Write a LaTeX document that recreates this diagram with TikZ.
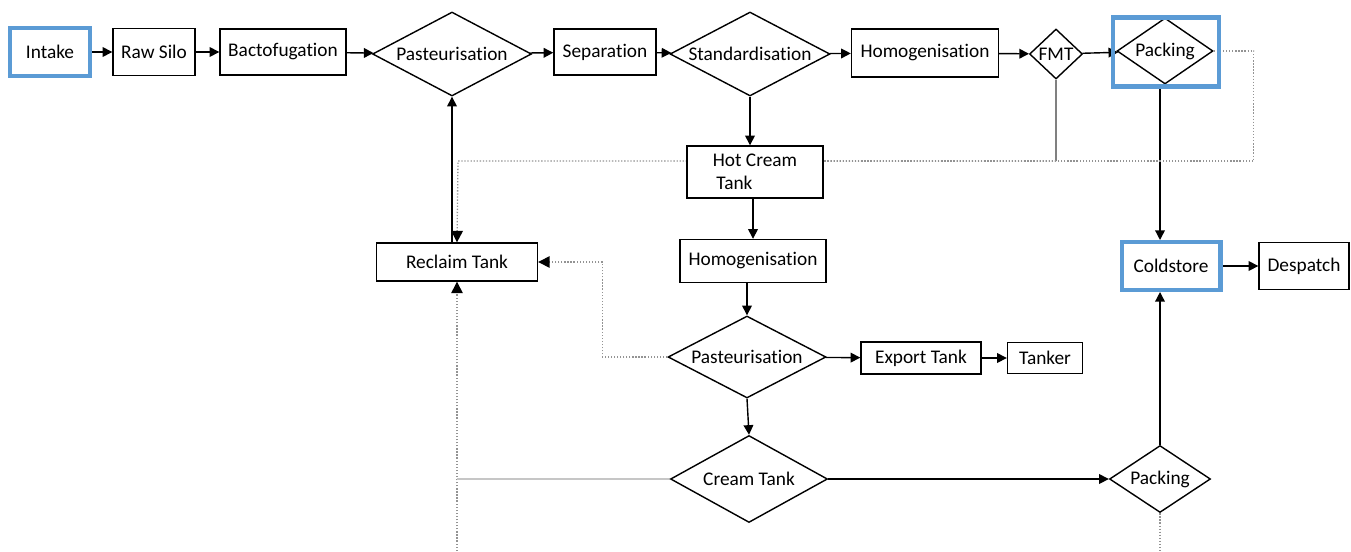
\documentclass[tikz,border=0pt]{standalone}
\usepackage{fontspec}
\setmainfont{Carlito}[Ligatures=NoCommon]
\usetikzlibrary{arrows.meta,shapes.geometric,positioning,calc}
\pgfdeclarelayer{bg}
\pgfsetlayers{bg,main}
\definecolor{hlblue}{RGB}{91,155,213}
\tikzset{
  box/.style={draw, fill=white, line width=0.8pt, inner sep=2pt},
  dia/.style={draw, diamond, fill=white, line width=0.8pt, inner sep=0pt},
  hilite/.style={draw=hlblue, line width=2.3pt},
  tip/.style={-{Triangle[length=5.5pt,width=5.5pt]}},
  backtip/.style={-{Triangle[length=6.5pt,width=6.5pt,color=black,fill=black]}},
  flow/.style={line width=0.8pt, tip},
  back/.style={gray!85, densely dotted, line width=0.75pt},
}

\begin{document}
\begin{tikzpicture}[x=0.02cm, y=-0.02cm, font=\fontsize{11}{13}\selectfont]
\useasboundingbox (0,0) rectangle (1351,551);
% top row
\node [box, hilite, minimum width=1.6cm, minimum height=0.96cm] (intake) at (50,52) {Intake};
\node [box, minimum width=1.64cm, minimum height=0.94cm] (raw) at (154,52) {Raw Silo};
\node [box, minimum width=2.52cm, minimum height=0.92cm] (bact) at (283,52) {Bactofugation};
\node [dia, aspect=1.9, minimum width=3.18cm, minimum height=1.68cm] (past1) at (452,54) {Pasteurisation};
\node [box, minimum width=2.04cm, minimum height=0.92cm] (sep) at (605,52) {Separation};
\node [dia, aspect=1.9, minimum width=3.2cm, minimum height=1.68cm] (std) at (750,54) {Standardisation};
\node [box, minimum width=2.94cm, minimum height=0.96cm] (homog) at (925,53) {Homogenisation};
\node [dia, aspect=1, minimum width=1.06cm, minimum height=1.0cm] (fmt) at (1056,54) {FMT};
\node [dia, aspect=1.45, minimum width=1.92cm, minimum height=1.32cm] (pack1) at (1165,51) {Packing};
\node [hilite, minimum width=2.12cm, minimum height=1.38cm] (pack1hl) at (1166,52) {};
% middle
\node [box, align=left, minimum width=2.72cm, minimum height=1.04cm] (hot) at (755,172) {Hot Cream\\\hspace{2pt}Tank};
\node [box, minimum width=3.22cm, minimum height=0.76cm] (reclaim) at (457,262) {Reclaim Tank};
\node [box, minimum width=2.92cm, minimum height=0.86cm] (homog2) at (753,261) {Homogenisation};
\node [box, hilite, minimum width=1.98cm, minimum height=0.96cm] (cold) at (1171,266) {Coldstore};
\node [box, minimum width=1.8cm, minimum height=0.94cm] (desp) at (1304,266) {Despatch};
\node [dia, aspect=1.9, minimum width=3.16cm, minimum height=1.64cm] (past2) at (747,357) {Pasteurisation};
\node [box, minimum width=2.4cm, minimum height=0.64cm] (export) at (921,358) {Export Tank};
\node [box, minimum width=1.5cm, minimum height=0.62cm] (tanker) at (1045,358) {Tanker};
% bottom
\node [dia, aspect=1.8, minimum width=3.14cm, minimum height=1.74cm] (cream) at (749,479) {Cream Tank};
\node [dia, aspect=1.5, minimum width=2.02cm, minimum height=1.34cm] (pack2) at (1160,479) {Packing};
\coordinate (retturn) at (458,161);
\coordinate (recin) at (457,551);
\coordinate (packout) at (1160,551);

\begin{pgfonlayer}{bg}
\draw [flow] (intake) -- (raw);
\draw [flow] (raw) -- (bact);
\draw [flow] (bact) -- (past1);
\draw [flow] (past1) -- (sep);
\draw [flow] (sep) -- (std);
\draw [flow] (std) -- (homog);
\draw [flow] (homog) -- (fmt);
\draw [flow] (fmt) -- (pack1);
\draw [flow] (std.south) -- (std.south |- hot.north);
\draw [flow] (hot.south -| homog2.north) -- (homog2.north);
\draw [flow] (homog2.south -| past2.north) -- (past2.north);
\draw [flow] (past2) -- (export);
\draw [flow] (export) -- (tanker);
\draw [flow] (past2.south) -- (cream.north);
\draw [flow] (cream) -- (pack2);
\draw [flow] (pack1.south -| pack2.north) -- (pack2.north |- cold.north);
\draw [flow] (pack2.north) -- (pack2.north |- cold.south);
\draw [flow] (cold) -- (desp);
\draw [flow] (past1.south |- reclaim.north) -- (past1.south);
% returns to the reclaim tank
\draw [gray, line width=0.7pt] (fmt.south) -- (fmt.south |- retturn);
\draw [back, backtip] (fmt.south |- retturn) -- (retturn) -- (reclaim.north);
\draw [back] (pack1.east) -- ++(40,0) |- (hot.east |- retturn);
\draw [back, backtip] (past2.west) -- ++(-65,0) |- (reclaim.east);
\draw [back, backtip] (recin) -- (reclaim.south);
\draw [gray!45, line width=1.3pt] (cream.west) -- (cream.west -| recin);
\draw [back] (pack2.south) -- (packout);
\end{pgfonlayer}
\end{tikzpicture}
\end{document}
